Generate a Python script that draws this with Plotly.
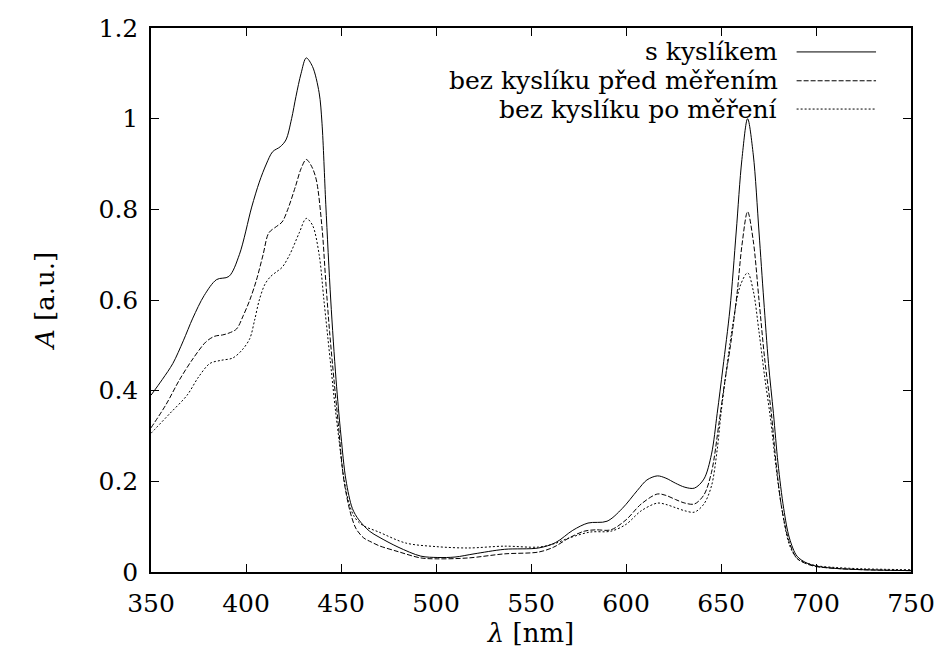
import plotly.graph_objects as go

# --- data ---
x_s = [350, 356, 361.5, 367, 372, 378, 384.5, 391, 396.5, 403, 407, 410.7, 414, 418, 421, 424, 426.3, 429,
       431.7, 435, 438.5, 440, 442, 444.6, 447.4, 450, 452.6, 456, 459.4, 465, 470, 480, 492, 501, 510, 520,
       536, 554, 563, 572, 580, 590, 598, 606, 611, 616.5, 621, 626, 631, 636, 641, 645, 648, 651, 654.7,
       658, 661, 664, 667, 670, 672.5, 675, 677.6, 680, 683, 686, 690, 695, 700, 710, 725, 750]
s_kyslikem = [0.39, 0.425, 0.46, 0.51, 0.56, 0.61, 0.645, 0.652, 0.70, 0.805, 0.86, 0.90, 0.927, 0.938, 0.953,
              1.00, 1.049, 1.10, 1.134, 1.115, 1.057, 0.99, 0.81, 0.60, 0.424, 0.30, 0.203, 0.14, 0.115, 0.09,
              0.077, 0.055, 0.035, 0.032, 0.033, 0.040, 0.050, 0.053, 0.065, 0.092, 0.108, 0.112, 0.14, 0.18,
              0.203, 0.212, 0.207, 0.196, 0.187, 0.185, 0.205, 0.26, 0.35, 0.45, 0.58, 0.75, 0.91, 1.0, 0.92,
              0.75, 0.60, 0.46, 0.35, 0.24, 0.14, 0.075, 0.035, 0.02, 0.013, 0.008, 0.005, 0.003]

x_d = [350, 358, 365, 372, 379, 383.5, 387.7, 391, 395, 398.5, 402, 405.5, 409, 412, 416, 419, 422, 426, 429,
       431.7, 434.5, 437, 440, 442, 444, 446.3, 448.5, 451.5, 455, 458, 462, 466, 470, 480, 492, 501, 517, 536,
       554, 562, 570, 578, 584, 592, 600, 608, 616.5, 621, 626, 631, 636, 641, 645, 649, 652, 655, 658.6, 661,
       664, 667, 670, 673, 676.5, 679, 682, 686, 690, 695, 700, 710, 725, 750]
pred_merenim = [0.318, 0.37, 0.424, 0.47, 0.508, 0.52, 0.523, 0.527, 0.536, 0.565, 0.60, 0.644, 0.70, 0.748,
                0.762, 0.772, 0.80, 0.85, 0.89, 0.91, 0.895, 0.865, 0.76, 0.64, 0.53, 0.424, 0.33, 0.203, 0.13,
                0.095, 0.075, 0.066, 0.058, 0.045, 0.031, 0.029, 0.031, 0.040, 0.044, 0.055, 0.075, 0.09, 0.093,
                0.093, 0.115, 0.15, 0.172, 0.169, 0.16, 0.152, 0.15, 0.17, 0.22, 0.33, 0.42, 0.50, 0.62, 0.72,
                0.795, 0.73, 0.60, 0.47, 0.35, 0.24, 0.14, 0.065, 0.03, 0.018, 0.012, 0.008, 0.005, 0.003]

x_p = [350, 360, 369, 375, 381, 387, 393, 398, 402, 404.5, 407, 410, 413, 416, 419, 423, 428, 431.7, 435,
       438.5, 441, 443, 445, 447, 449, 451, 454, 457, 461, 470, 484, 500, 517, 536, 554, 562, 570, 581, 592,
       600, 608, 616.5, 621, 626, 631, 636, 641, 645, 648, 650, 653, 656, 660, 664, 667, 670, 673, 676, 679,
       682, 686, 690, 695, 700, 710, 725, 750]
po_mereni = [0.306, 0.35, 0.39, 0.43, 0.46, 0.467, 0.472, 0.49, 0.515, 0.555, 0.60, 0.635, 0.652, 0.662, 0.672,
             0.70, 0.748, 0.78, 0.765, 0.70, 0.60, 0.52, 0.44, 0.36, 0.29, 0.22, 0.155, 0.122, 0.104, 0.088,
             0.064, 0.056, 0.053, 0.057, 0.055, 0.062, 0.075, 0.088, 0.09, 0.105, 0.135, 0.152, 0.149, 0.142,
             0.135, 0.132, 0.15, 0.19, 0.27, 0.35, 0.45, 0.54, 0.63, 0.66, 0.62, 0.53, 0.43, 0.34, 0.23, 0.14,
             0.06, 0.03, 0.02, 0.014, 0.01, 0.007, 0.005]

series_names = ["s kyslíkem", "bez kyslíku před měřením", "bez kyslíku po měření"]
series_x = [x_s, x_d, x_p]
series_values = [s_kyslikem, pred_merenim, po_mereni]
dashes = ["solid", "5px,2px", "2px,2px"]

x_ticks = [350, 400, 450, 500, 550, 600, 650, 700, 750]
y_ticks = [0, 0.2, 0.4, 0.6, 0.8, 1.0, 1.2]
y_tick_text = ["0", "0.2", "0.4", "0.6", "0.8", "1", "1.2"]

FONT = "DejaVu Serif"

fig = go.Figure()
for name, xs, vals, d in zip(series_names, series_x, series_values, dashes):
    fig.add_trace(go.Scatter(x=xs, y=vals, mode="lines", name=name,
                             line=dict(color="black", width=1, dash=d, shape="spline", smoothing=0.9),
                             showlegend=False))

# legend drawn gnuplot style: right-aligned text, sample line to the right
leg_y = [0.956, 0.903, 0.851]
for name, d, yy in zip(series_names, dashes, leg_y):
    fig.add_annotation(xref="paper", yref="paper", x=0.828, y=yy, text=name, showarrow=False,
                       xanchor="right", yanchor="middle", font=dict(family=FONT, size=25, color="black"))
    fig.add_shape(type="line", xref="paper", yref="paper", x0=0.8495, x1=0.954, y0=yy, y1=yy,
                  line=dict(color="black", width=1, dash=d))

axis_common = dict(showline=True, linecolor="black", linewidth=1.5, mirror="ticks", ticks="inside",
                   ticklen=8, tickwidth=1, tickcolor="black", showgrid=False, zeroline=False,
                   tickfont=dict(family=FONT, size=25, color="black"))

fig.update_xaxes(range=[350, 750], tickvals=x_ticks, ticktext=[str(v) for v in x_ticks],
                 ticklabelstandoff=8,
                 title=dict(text="<i>λ</i> [nm]", font=dict(family=FONT, size=26, color="black"), standoff=6),
                 **axis_common)
fig.update_yaxes(range=[0, 1.2], tickvals=y_ticks, ticktext=y_tick_text,
                 ticklabelstandoff=6,
                 title=dict(text="<i>A</i> [a.u.]", font=dict(family=FONT, size=26, color="black"), standoff=36),
                 **axis_common)

fig.update_layout(width=947, height=662, margin=dict(l=151, r=32, t=28, b=90),
                  plot_bgcolor="white", paper_bgcolor="white")

fig.write_html("out.html")
